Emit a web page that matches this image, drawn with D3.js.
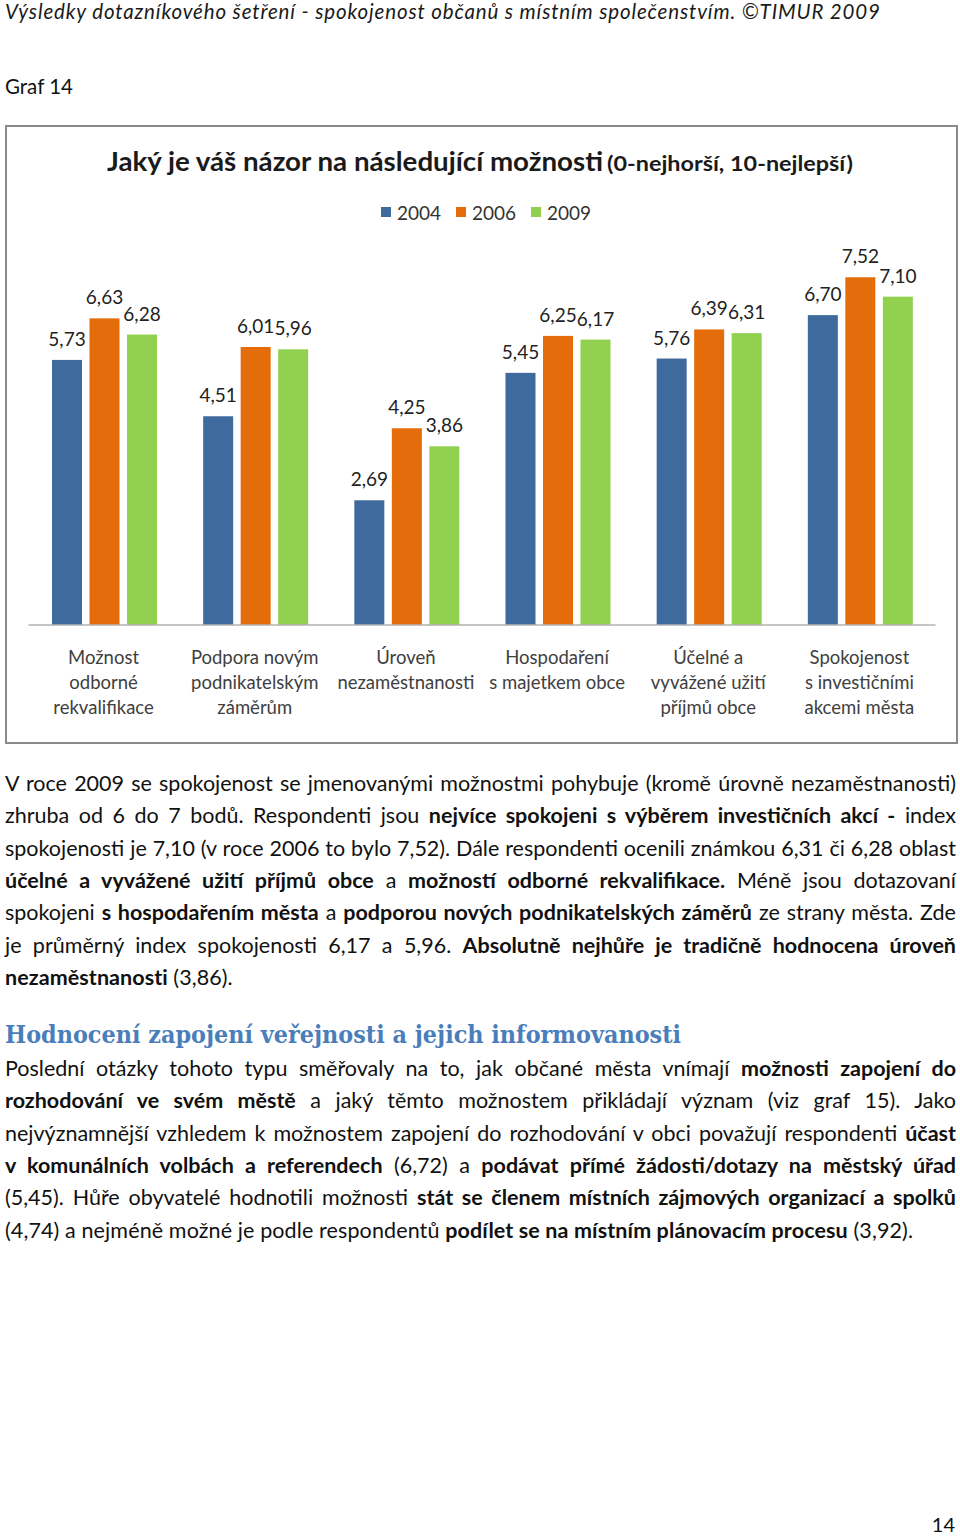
<!DOCTYPE html>
<html><head><meta charset="utf-8">
<script src="https://cdn.jsdelivr.net/npm/d3@7"></script>
<style>
body{margin:0;background:#fff;width:960px;height:1536px;overflow:hidden;}
svg text{white-space:pre;}
</style></head><body>
<svg id="page" width="960" height="1536"></svg>
<script>
// ---- chart data ----
const categories = [
  "Možnost\nodborné\nrekvalifikace",
  "Podpora novým\npodnikatelským\nzáměrům",
  "Úroveň\nnezaměstnanosti",
  "Hospodaření\ns majetkem obce",
  "Účelné a\nvyvážené užití\npříjmů obce",
  "Spokojenost\ns investičními\nakcemi města"
];
const years = ["2004", "2006", "2009"];
const values2004 = [5.73, 4.51, 2.69, 5.45, 5.76, 6.70];
const values2006 = [6.63, 6.01, 4.25, 6.25, 6.39, 7.52];
const values2009 = [6.28, 5.96, 3.86, 6.17, 6.31, 7.10];
const seriesColors = ["#3f6a9e", "#e46c0a", "#92d050"];
const titleMain = "Jaký je váš názor na následující možnosti";
const titleSub = "(0-nejhorší, 10-nejlepší)";

// ---- page text ----
const headerText = "Výsledky dotazníkového šetření - spokojenost občanů s místním společenstvím. ©TIMUR 2009";
const grafLabel = "Graf 14";
const sectionHeading = "Hodnocení zapojení veřejnosti a jejich informovanosti";
const para1 = [
  {j:true, s:[["V roce 2009 se spokojenost se jmenovanými možnostmi pohybuje (kromě úrovně nezaměstnanosti)",0]]},
  {j:true, s:[["zhruba od 6 do 7 bodů. Respondenti jsou ",0],["nejvíce spokojeni s výběrem investičních akcí -",1],[" index",0]]},
  {j:true, s:[["spokojenosti je 7,10 (v roce 2006 to bylo 7,52). Dále respondenti ocenili známkou 6,31 či 6,28 oblast",0]]},
  {j:true, s:[["účelné a vyvážené užití příjmů obce",1],[" a ",0],["možností odborné rekvalifikace.",1],[" Méně jsou dotazovaní",0]]},
  {j:true, s:[["spokojeni ",0],["s hospodařením města",1],[" a ",0],["podporou nových podnikatelských záměrů",1],[" ze strany města. Zde",0]]},
  {j:true, s:[["je průměrný index spokojenosti 6,17 a 5,96. ",0],["Absolutně nejhůře je tradičně hodnocena úroveň",1]]},
  {j:false, w:228, s:[["nezaměstnanosti",1],[" (3,86).",0]]}
];
const para2 = [
  {j:true, s:[["Poslední otázky tohoto typu směřovaly na to, jak občané města vnímají ",0],["možnosti zapojení do",1]]},
  {j:true, s:[["rozhodování ve svém městě",1],[" a jaký těmto možnostem přikládají význam (viz graf 15). Jako",0]]},
  {j:true, s:[["nejvýznamnější vzhledem k možnostem zapojení do rozhodování v obci považují respondenti ",0],["účast",1]]},
  {j:true, s:[["v komunálních volbách a referendech",1],[" (6,72) a ",0],["podávat přímé žádosti/dotazy na městský úřad",1]]},
  {j:true, s:[["(5,45). Hůře obyvatelé hodnotili možnosti ",0],["stát se členem místních zájmových organizací a spolků",1]]},
  {j:false, w:908, s:[["(4,74) a nejméně možné je podle respondentů ",0],["podílet se na místním plánovacím procesu",1],[" (3,92).",0]]}
];

const FONT = "Lato, 'Open Sans', sans-serif";

function fitLetters(sel, target){
  const n = sel.node();
  const w = n.getComputedTextLength();
  const c = n.textContent.length;
  sel.attr("letter-spacing", ((target - w) / Math.max(1, c - 1)).toFixed(3));
}
function justify(sel, target){
  const n = sel.node();
  const w = n.getComputedTextLength();
  const sp = (n.textContent.match(/ /g) || []).length;
  sel.attr("word-spacing", ((target - w) / Math.max(1, sp)).toFixed(3));
}

function draw(){
  const svg = d3.select("#page");

  // header
  const h = svg.append("text").attr("x",5).attr("y",19)
    .attr("font-family",FONT).attr("font-style","italic").attr("font-size",20.5)
    .attr("fill","#1a1a1a").text(headerText);
  fitLetters(h, 875);
  const g14 = svg.append("text").attr("x",5).attr("y",94)
    .attr("font-family",FONT).attr("font-size",20.5).attr("fill","#111").text(grafLabel);
  fitLetters(g14, 68);

  // chart frame
  svg.append("rect").attr("x",6).attr("y",126).attr("width",951).attr("height",617)
    .attr("fill","#fff").attr("stroke","#8a8a8a").attr("stroke-width",2);

  // title
  const t1 = svg.append("text").attr("x",107).attr("y",171)
    .attr("font-family",FONT).attr("font-weight",700).attr("font-size",27)
    .attr("fill","#1a1a1a").text(titleMain);
  t1.attr("textLength",496).attr("lengthAdjust","spacingAndGlyphs");
  const t2 = svg.append("text").attr("x",607).attr("y",171)
    .attr("font-family",FONT).attr("font-weight",700).attr("font-size",20.5)
    .attr("fill","#1a1a1a").text(titleSub);
  t2.attr("textLength",246).attr("lengthAdjust","spacingAndGlyphs");

  // legend
  const legend = svg.append("g");
  years.forEach((yr,i)=>{
    const lx = 381 + i*75;
    legend.append("rect").attr("x",lx).attr("y",207).attr("width",10).attr("height",10)
      .attr("fill",seriesColors[i]);
    legend.append("text").attr("x",lx+16).attr("y",220)
      .attr("font-family",FONT).attr("font-size",19).attr("fill","#333").text(yr);
  });

  // scales
  const x0 = d3.scaleBand().domain(categories).range([28,935]).padding(0);
  const x1 = d3.scaleBand().domain(years).range([24,129]).paddingInner(0.2).paddingOuter(0);
  const y = d3.scaleLinear().domain([0,8]).range([624.5,255.1]);
  const fmt = v => d3.format(".2f")(v).replace(".", ",");

  const seriesVals = [values2004, values2006, values2009];
  const data = categories.map((c,ci)=>({cat:c, vals: years.map((yr,si)=>({year:yr, si, v:seriesVals[si][ci]}))}));

  const groups = svg.append("g").selectAll("g").data(data).join("g")
    .attr("transform", d=>`translate(${x0(d.cat)},0)`);
  groups.selectAll("rect").data(d=>d.vals).join("rect")
    .attr("x", d=>x1(d.year)).attr("width", x1.bandwidth())
    .attr("y", d=>y(d.v)).attr("height", d=>y(0)-y(d.v))
    .attr("fill", d=>seriesColors[d.si]);
  groups.selectAll("text.val").data(d=>d.vals).join("text").attr("class","val")
    .attr("x", d=>x1(d.year)+x1.bandwidth()/2).attr("y", d=>y(d.v)-14)
    .attr("text-anchor","middle").attr("font-family",FONT).attr("font-size",19)
    .attr("fill","#222").text(d=>fmt(d.v));

  // axis line
  const axis = svg.append("g").attr("transform",`translate(0,${y(0)})`)
    .call(d3.axisBottom(x0).tickSize(0).tickSizeOuter(0).tickFormat(""));
  axis.select(".domain").attr("stroke","#8c8c8c").attr("stroke-width",1.2);
  axis.selectAll(".tick").remove();

  // category labels
  const cl = svg.append("g").selectAll("text").data(categories).join("text")
    .attr("text-anchor","middle").attr("font-family",FONT).attr("font-size",18.5)
    .attr("fill","#404040");
  cl.each(function(c){
    const lines = c.split("\n");
    d3.select(this).selectAll("tspan").data(lines).join("tspan")
      .attr("x", x0(c)+x0.bandwidth()/2).attr("y",(d,i)=>664+i*25).text(d=>d);
  });

  // body text
  function para(lines, y0){
    lines.forEach((ln,i)=>{
      const t = svg.append("text").attr("x",5).attr("y",y0+i*32.35)
        .attr("font-family",FONT).attr("font-size",21.5).attr("fill","#111");
      ln.s.forEach(([s,b])=>{
        t.append("tspan").attr("font-weight", b?700:400).text(s);
      });
      if(ln.j) justify(t, 951); else fitLetters(t, ln.w);
    });
  }
  para(para1, 791);

  const hd = svg.append("text").attr("x",5).attr("y",1043)
    .attr("font-family","'DejaVu Serif', 'Liberation Serif', serif").attr("font-weight",700)
    .attr("font-size",24).attr("fill","#4a7ebb").text(sectionHeading);
  hd.attr("textLength",676).attr("lengthAdjust","spacingAndGlyphs");

  para(para2, 1076);

  svg.append("text").attr("x",955).attr("y",1532).attr("text-anchor","end")
    .attr("font-family",FONT).attr("font-size",20).attr("fill","#111").text("14");
}

if (document.fonts && document.fonts.ready) document.fonts.ready.then(draw); else draw();
</script>
</body></html>
